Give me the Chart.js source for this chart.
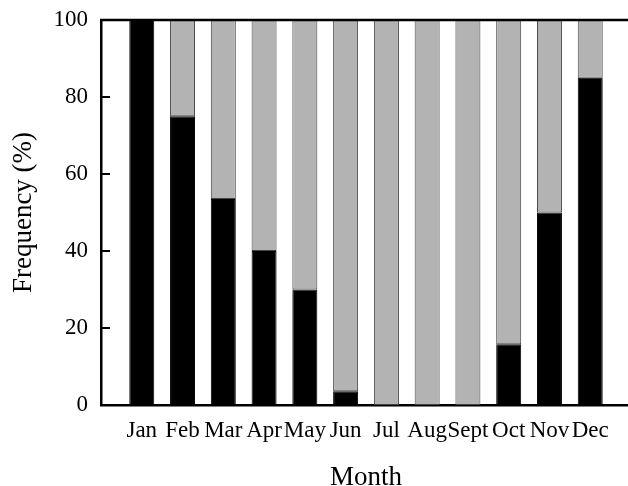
<!DOCTYPE html>
<html>
<head>
<meta charset="utf-8">
<script src="https://cdn.jsdelivr.net/npm/chart.js@4.4.1/dist/chart.umd.min.js"></script>
<style>
  html, body { margin: 0; padding: 0; background: #fff; overflow: hidden; }
  #wrap { width: 640px; height: 486px; }
</style>
</head>
<body>
<div id="wrap"><canvas id="c" width="640" height="486"></canvas></div>
<script>
const months = ['Jan','Feb','Mar','Apr','May','Jun','Jul','Aug','Sept','Oct','Nov','Dec'];
const blackValues = [100, 75, 53.5, 40, 30, 3.6, 0, 0, 0, 15.8, 50, 85];
const grayValues  = [0, 25, 46.5, 60, 70, 96.4, 100, 100, 100, 84.2, 50, 15];
const yTicks = [0, 20, 40, 60, 80, 100];

const labels = [''].concat(months, ['']);
const pad = arr => [null].concat(arr, [null]);
const FONT = "'Liberation Serif', 'Times New Roman', serif";

const innerTicks = {
  id: 'innerTicks',
  afterDraw(chart) {
    const {ctx, chartArea} = chart;
    const y = chart.scales.y;
    ctx.save();
    ctx.strokeStyle = '#000';
    ctx.lineWidth = 2.5;
    ctx.beginPath();
    ctx.moveTo(chartArea.left - 1, chartArea.top);
    ctx.lineTo(chartArea.right, chartArea.top);
    ctx.stroke();
    ctx.lineWidth = 2;
    yTicks.forEach(v => {
      if (v === 0 || v === 100) return;
      const py = y.getPixelForValue(v);
      ctx.beginPath();
      ctx.moveTo(chartArea.left, py);
      ctx.lineTo(chartArea.left + 9, py);
      ctx.stroke();
    });
    ctx.restore();
  }
};

new Chart(document.getElementById('c'), {
  type: 'bar',
  data: {
    labels: labels,
    datasets: [
      { label: 'black', data: pad(blackValues), backgroundColor: '#000', borderColor: '#000', borderWidth: 1, borderSkipped: false },
      { label: 'gray', data: pad(grayValues), backgroundColor: '#b3b3b3', borderColor: '#444', borderWidth: 1, borderSkipped: false }
    ]
  },
  options: {
    responsive: false,
    animation: false,
    devicePixelRatio: 1,
    layout: { padding: { top: 20, right: 9, left: 0, bottom: 0 } },
    datasets: { bar: { categoryPercentage: 1, barPercentage: 0.613 } },
    plugins: { legend: { display: false }, tooltip: { enabled: false } },
    scales: {
      x: {
        stacked: true,
        offset: false,
        grid: { display: false, drawTicks: false },
        border: { display: true, color: '#000', width: 2.5 },
        ticks: { autoSkip: false, maxRotation: 0, minRotation: 0, padding: 12, color: '#000', font: { family: FONT, size: 23 } },
        title: { display: true, text: 'Month', color: '#000', font: { family: FONT, size: 27, lineHeight: 0.6 }, padding: { top: 0, bottom: 0 } },
        afterFit(scale) { scale.height = 81; scale.paddingLeft = 0; scale.paddingRight = 0; }
      },
      y: {
        stacked: true,
        min: 0,
        max: 100,
        afterBuildTicks(scale) { scale.ticks = yTicks.map(v => ({ value: v })); },
        grid: { display: false, drawTicks: false },
        border: { display: true, color: '#000', width: 2.5 },
        ticks: { padding: 13, color: '#000', font: { family: FONT, size: 23 } },
        title: { display: true, text: 'Frequency (%)', color: '#000', font: { family: FONT, size: 27, lineHeight: 1.2 }, padding: { top: 8, bottom: 0 } },
        afterFit(scale) { scale.width = 101; scale.paddingTop = 0; scale.paddingBottom = 0; }
      }
    }
  },
  plugins: [innerTicks]
});
</script>
</body>
</html>
